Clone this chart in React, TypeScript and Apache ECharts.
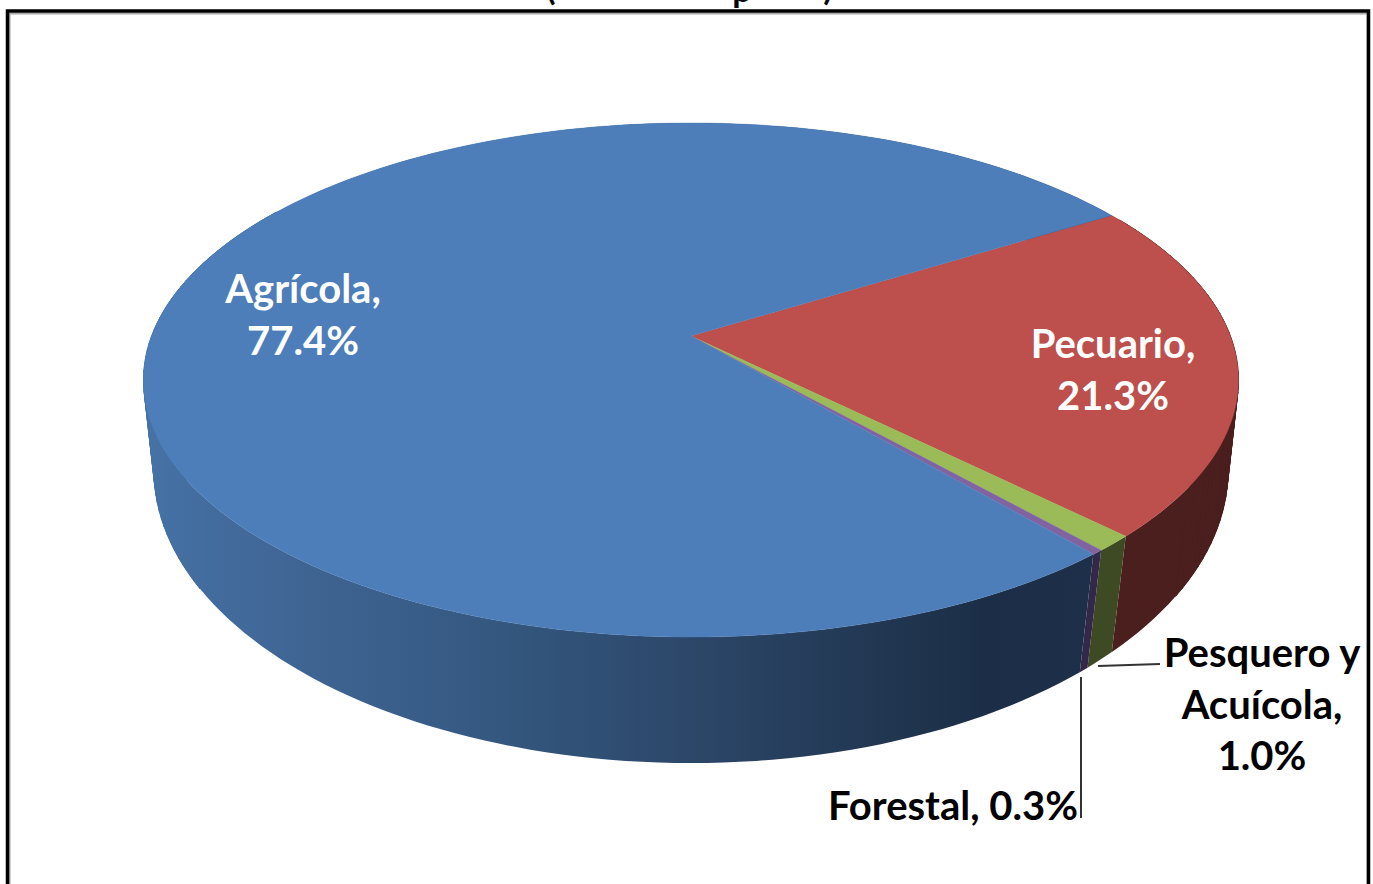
import React, { useEffect, useRef } from "react";
import * as echarts from "echarts";

const categories = ["Pecuario", "Pesquero y Acuícola", "Forestal", "Agrícola"];
const shares = [21.3, 1.0, 0.3, 77.4];
const labelLines = [
  ["Pecuario,", "21.3%"],
  ["Pesquero y", "Acuícola,", "1.0%"],
  ["Forestal, 0.3%"],
  ["Agrícola,", "77.4%"],
];
const topColors = ["#bd4f4c", "#9abb58", "#8064a2", "#4d7eba"];
const wallColors = ["#4a1f1e", "#3e4a23", "#33284a"];

const START_DEG = 58.2;
const STEP_DEG = 1.5;
const TOP = { cx: 691, cy: 336, a: 539.4, b: 249.5, k: -0.1712 };
const BOTTOM = { cx: 691, cy: 426, a: 531, b: 286.5, k: -0.15 };
const LABEL_BOX = [
  { x: 1113, y: 343, align: "center", color: "#fff" },
  { x: 1262, y: 652, align: "center", color: "#000" },
  { x: 1078, y: 805, align: "right", color: "#000" },
  { x: 303, y: 288, align: "center", color: "#fff" },
];
const LEADERS: Record<number, number[][]> = {
  1: [[1098, 666], [1160, 664]],
  2: [[1081, 677], [1081, 818]],
};

type Disc = typeof TOP;
const project = (d: Disc, deg: number) => {
  const r = (deg * Math.PI) / 180;
  const u = Math.sin(r);
  const v = -Math.cos(r);
  const w = 1 + d.k * v;
  return [d.cx + (d.a * u) / w, d.cy + (d.b * v) / w];
};
const span = (index: number) => {
  const total = shares.reduce((s, x) => s + x, 0);
  const before = shares.slice(0, index).reduce((s, x) => s + x, 0);
  const from = START_DEG + (before / total) * 360;
  return [from, from + (shares[index] / total) * 360];
};
const steps = (from: number, to: number) => {
  const out: number[] = [];
  const n = Math.max(2, Math.ceil((to - from) / STEP_DEG));
  for (let i = 0; i <= n; i++) out.push(from + ((to - from) * i) / n);
  return out;
};
const rim = (d: Disc, from: number, to: number) => steps(from, to).map((deg) => project(d, deg));

const blueWall = {
  type: "linear",
  global: true,
  x: 143,
  y: 0,
  x2: 1090,
  y2: 0,
  colorStops: [
    { offset: 0, color: "#4672a6" },
    { offset: 0.16, color: "#3f6594" },
    { offset: 0.37, color: "#345880" },
    { offset: 0.59, color: "#2c4668" },
    { offset: 0.8, color: "#20354f" },
    { offset: 0.89, color: "#1c2e47" },
    { offset: 1, color: "#1e3049" },
  ],
};

const seriesData = shares.map((v, i) => ({ name: categories[i], value: [v] }));

const font = '"Lato", "Noto Sans", sans-serif';

export default function App() {
  const ref = useRef<HTMLDivElement>(null);
  useEffect(() => {
    document.body.style.margin = "0";
    const chart = echarts.init(ref.current!, null, { renderer: "svg" });
    chart.setOption({
      animation: false,
      backgroundColor: "#fff",
      graphic: [
        { type: "rect", shape: { x: 9.5, y: 13.5, width: 1358, height: 1000 }, style: { fill: "none", stroke: "#aaa", lineWidth: 2 }, z: 1 },
        { type: "rect", shape: { x: 7.5, y: 11, width: 1361, height: 1000 }, style: { fill: "none", stroke: "#000", lineWidth: 3.5 }, z: 2 },
        { type: "text", x: 551, y: -31, style: { text: "(", font: `bold 34px ${font}`, fill: "#000", align: "center" } },
        { type: "text", x: 742, y: -29, style: { text: "p", font: `bold 34px ${font}`, fill: "#000", align: "center" } },
        { type: "text", x: 828, y: -31, style: { text: ")", font: `bold 34px ${font}`, fill: "#000", align: "center" } },
      ],
      series: [
        {
          type: "custom",
          coordinateSystem: "none",
          z: 2,
          silent: true,
          data: seriesData,
          renderItem: (params: any) => {
            const i = params.dataIndex;
            const [from, to] = span(i);
            const fill = i === 3 ? blueWall : wallColors[i];
            const children: any[] = [
              {
                type: "polygon",
                shape: { points: [...rim(TOP, from, to), ...rim(BOTTOM, from, to).reverse()] },
                style: { fill, stroke: "none" },
              },
            ];
            // Extrusion quads at the left and right flanks, where the wall's outline is straight.
            const ds = steps(from, to);
            for (let n = 0; n < ds.length - 1; n++) {
              if (Math.abs(Math.sin((ds[n] * Math.PI) / 180)) < 0.85) continue;
              children.push({
                type: "polygon",
                shape: {
                  points: [
                    project(TOP, ds[n]),
                    project(TOP, ds[n + 1]),
                    project(BOTTOM, ds[n + 1]),
                    project(BOTTOM, ds[n]),
                  ],
                },
                style: { fill, stroke: fill, lineWidth: 1 },
              });
            }
            return { type: "group", children };
          },
        },
        {
          type: "custom",
          coordinateSystem: "none",
          z: 3,
          silent: true,
          data: seriesData,
          renderItem: (params: any) => {
            const i = params.dataIndex;
            const [from, to] = span(i);
            const points = [[TOP.cx, TOP.cy], ...rim(TOP, from, to)];
            return {
              type: "polygon",
              shape: { points },
              style: { fill: topColors[i], stroke: topColors[i], lineWidth: 0.4 },
            };
          },
        },
        {
          type: "custom",
          coordinateSystem: "none",
          z: 4,
          silent: true,
          data: seriesData,
          renderItem: (params: any) => {
            const i = params.dataIndex;
            const box = LABEL_BOX[i];
            const children: any[] = labelLines[i].map((line, n) => ({
              type: "text",
              x: box.x,
              y: box.y + n * 51.5,
              style: {
                text: line,
                font: `bold 40px ${font}`,
                fill: box.color,
                align: box.align,
                verticalAlign: "middle",
              },
            }));
            if (LEADERS[i]) {
              children.push({
                type: "polyline",
                shape: { points: LEADERS[i] },
                style: { fill: "none", stroke: "#333", lineWidth: 2 },
              });
            }
            return { type: "group", children };
          },
        },
      ],
    });
    return () => chart.dispose();
  }, []);
  return <div ref={ref} style={{ width: 1373, height: 884 }} />;
}
